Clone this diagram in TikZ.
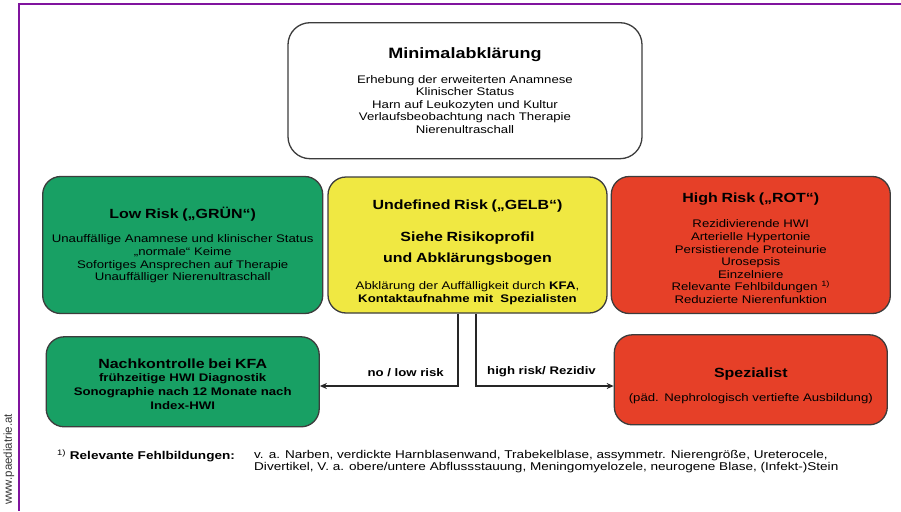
\documentclass[tikz,border=0pt]{standalone}
\usepackage{fontspec}
\setmainfont[FakeStretch=1.2]{Liberation Sans}
\newfontfamily\sidefont{Liberation Sans}
\usetikzlibrary{positioning,arrows.meta}
\definecolor{lowgreen}{RGB}{24,160,100}
\definecolor{midyellow}{RGB}{240,232,66}
\definecolor{highred}{RGB}{230,64,40}
\definecolor{boxgray}{RGB}{60,60,60}
\definecolor{framepurple}{RGB}{128,20,158}
\newcommand{\btitle}[1]{{\fontsize{13.3}{15}\selectfont\bfseries #1}}
\newcommand{\bigtitle}[1]{{\fontsize{15}{17}\selectfont\bfseries #1}}
\newcommand{\lift}[1]{\rule{0pt}{#1}}

\begin{document}
\begin{tikzpicture}[x=1pt,y=-1pt,
      riskbox/.style={draw=boxgray,line width=1.3pt,rounded corners=18pt,
        align=center,inner sep=2pt,
        font=\fontsize{11}{12.6}\selectfont},
      flow/.style={line width=1.6pt,draw=black!85,-{Stealth[length=7pt,width=6pt]}},
      flowlabel/.style={inner sep=0pt,font=\fontsize{11}{13}\selectfont\bfseries},
      footnote/.style={inner sep=0pt,align=left,font=\fontsize{11.3}{12}\selectfont}]

     \useasboundingbox (0,0) rectangle (901,511);
     \draw[framepurple,line width=1.8pt] (901,4) -| (19,511);
     \node[rotate=90,anchor=west,inner sep=0pt,font=\sidefont\fontsize{11.5}{13}\selectfont,text=black!80]
        (site) at (9,505) {www.paediatrie.at};

     \node[riskbox,fill=midyellow,minimum width=279pt,minimum height=136pt,text width=272pt]
        (gelb) at (467.5,245) {\lift{24pt}\btitle{Undefined Risk („GELB“)}\\[17pt]
        {\fontsize{13.3}{15}\selectfont\bfseries Siehe Risikoprofil\\[8pt] und Abklärungsbogen}\\[15pt]
        Abklärung der Auffälligkeit durch \textbf{KFA},\\
        \textbf{Kontaktaufnahme mit\ \ Spezialisten}};

     \node[riskbox,fill=lowgreen,minimum width=280pt,minimum height=137pt,text width=276pt,
        left=4pt of gelb] (gruen) {\btitle{Low Risk („GRÜN“)}\\[12pt]
        Unauffällige Anamnese und klinischer Status\\
        „normale“ Keime\\
        Sofortiges Ansprechen auf Therapie\\
        Unauffälliger Nierenultraschall};

     \node[riskbox,fill=highred,minimum width=279pt,minimum height=137pt,text width=272pt,
        right=3pt of gelb] (rot) {\lift{16pt}\btitle{High Risk („ROT“)}\\[13pt]
        Rezidivierende HWI\\
        Arterielle Hypertonie\\
        Persistierende Proteinurie\\
        Urosepsis\\
        Einzelniere\\
        Relevante Fehlbildungen \textsuperscript{1)}\\
        Reduzierte Nierenfunktion};

     \node[riskbox,fill=white,minimum width=354pt,minimum height=136pt,text width=340pt,
        rounded corners=22pt,above=17pt of gelb,xshift=-2.5pt] (minimal)
        {\bigtitle{Minimalabklärung}\\[12pt]
        Erhebung der erweiterten Anamnese\\
        Klinischer Status\\
        Harn auf Leukozyten und Kultur\\
        Verlaufsbeobachtung nach Therapie\\
        Nierenultraschall};

     \node[riskbox,fill=lowgreen,minimum width=273pt,minimum height=90pt,text width=266pt,
        below=22pt of gruen,font=\fontsize{11}{13.8}\selectfont\bfseries] (nachkontrolle)
        {\lift{14pt}{\fontsize{13.3}{14}\selectfont Nachkontrolle bei KFA}\\
        frühzeitige HWI Diagnostik\\
        Sonographie nach 12 Monate nach\\
        Index-HWI};

     \node[riskbox,fill=highred,minimum width=273pt,minimum height=90pt,text width=266pt,
        below=20pt of rot] (spezialist)
        {\lift{22pt}\btitle{Spezialist}\\[12pt]
        (päd. Nephrologisch vertiefte Ausbildung)};

     \coordinate (lowturn) at (458,386);
     \coordinate (highturn) at (476,386);
     \draw[flow] (gelb.south -| lowturn) |- (nachkontrolle.east |- lowturn);
     \draw[flow] (gelb.south -| highturn) |- (spezialist.west |- highturn);
     \node[flowlabel,above left=9pt and 14pt of lowturn] (lowlabel) {no / low risk};
     \node[flowlabel,above right=9pt and 11pt of highturn] (highlabel) {high risk/ Rezidiv};

     \node[footnote,anchor=west] (fnmark) at (57,456)
        {\textsuperscript{1)} \textbf{Relevante Fehlbildungen:}};
     \node[footnote,anchor=north west] (fntext) at (254,450)
        {v. a. Narben, verdickte Harnblasenwand, Trabekelblase, assymmetr. Nierengröße, Ureterocele,\\
        Divertikel, V. a. obere/untere Abflussstauung, Meningomyelozele, neurogene Blase, (Infekt-)Stein};
\end{tikzpicture}
\end{document}
